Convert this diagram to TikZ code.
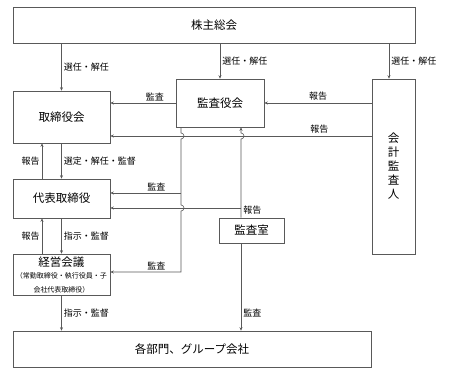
\documentclass[tikz,border=0pt]{standalone}
\usepackage{fontspec}
\setmainfont{Noto Sans CJK JP}
\usetikzlibrary{arrows.meta}
\begin{document}
\begin{tikzpicture}[
  x=1pt, y=-1pt,
  box/.style={draw=black!65, line width=0.6pt, inner sep=1pt, font=\fontsize{11.5}{14}\selectfont},
  lbl/.style={font=\fontsize{9}{10}\selectfont, inner sep=2pt},
  line/.style={draw=black!65, line width=0.6pt},
  >={Stealth[length=3.5pt,width=3pt]}
]
  \useasboundingbox (0,0) rectangle (450,375);

  \node[box, minimum width=402pt, minimum height=36pt] (soukai) at (214,25) {株主総会};
  \node[box, minimum width=97pt, minimum height=52pt] (torikai) at (61.5,117) {取締役会};
  \node[box, minimum width=88pt, minimum height=48pt] (kansayaku) at (220,103) {監査役会};
  \node[box, minimum width=43pt, minimum height=175pt, align=center] (kaikei) at (393.5,166.5) {会\\計\\監\\査\\人};
  \node[box, minimum width=97pt, minimum height=39pt] (daihyo) at (61.5,198.5) {代表取締役};
  \node[box, minimum width=65pt, minimum height=25pt] (kansashitsu) at (251.5,230.5) {監査室};
  \node[box, minimum width=97pt, minimum height=41pt, align=center] (keiei) at (61.5,274.5)
    {経営会議\\[-2pt]\fontsize{7}{8.5}\selectfont（常勤取締役・執行役員・子\\\fontsize{7}{8.5}\selectfont 会社代表取締役）};
  \node[box, minimum width=358pt, minimum height=36pt] (bumon) at (192,349) {各部門、グループ会社};

  % columns and rows of the connectors
  \coordinate (up) at (42,0);
  \coordinate (ka) at (389,0);
  \coordinate (vl) at (181,0);
  \coordinate (vr) at (241,0);
  \coordinate (r1) at (0,136);
  \coordinate (r2) at (0,193);
  \coordinate (r3) at (0,208);
  \coordinate (r4) at (0,272);

  \draw[line,->] (soukai.south -| torikai) -- node[lbl,right] {選任・解任} (torikai);
  \draw[line,->] (soukai.south -| kansayaku) -- node[lbl,right] {選任・解任} (kansayaku);
  \draw[line,->] (soukai.south -| ka) -- node[lbl,right] {選任・解任} (kaikei.north -| ka);

  \draw[line,->] (kansayaku.west) -- node[lbl,above,pos=0.32] {監査} (torikai.east |- kansayaku.west);
  \draw[line,->] (kaikei.west |- kansayaku.east) -- node[lbl,above] {報告} (kansayaku.east);
  \draw[line,->] (kaikei.west |- r1) -- node[lbl,above,pos=0.2] {報告} (torikai.east |- r1);

  \draw[line,->] (daihyo.north -| up) -- node[lbl,left] {報告} (torikai.south -| up);
  \draw[line,->] (torikai) -- node[lbl,right] {選定・解任・監督} (daihyo);
  \draw[line,->] (keiei.north -| up) -- node[lbl,left] {報告} (daihyo.south -| up);
  \draw[line,->] (daihyo) -- node[lbl,right] {指示・監督} (keiei);
  \draw[line,->] (keiei.south) -- node[lbl,right] {指示・監督} (bumon.north -| keiei);

  % audit line of the board of auditors
  \draw[line,->] (kansayaku.south -| vl) -- (181,133) arc[start angle=-90, end angle=90, radius=3]
    -- (181,205) arc[start angle=-90, end angle=90, radius=3]
    -- (vl |- r4) -- node[lbl,above,pos=0.35] {監査} (keiei.east |- r4);
  \draw[line,->] (vl |- r2) -- node[lbl,above,pos=0.35] {監査} (daihyo.east |- r2);

  % audit office
  \draw[line,->] (kansashitsu.north -| vr) -- node[lbl,right,pos=0.1] {報告} (241,139)
    arc[start angle=90, end angle=-90, radius=3] -- (kansayaku.south -| vr);
  \draw[line,->] (vr |- r3) -- (daihyo.east |- r3);
  \draw[line,->] (kansashitsu.south -| vr) -- node[lbl,right,pos=0.8] {監査} (bumon.north -| vr);
\end{tikzpicture}
\end{document}
